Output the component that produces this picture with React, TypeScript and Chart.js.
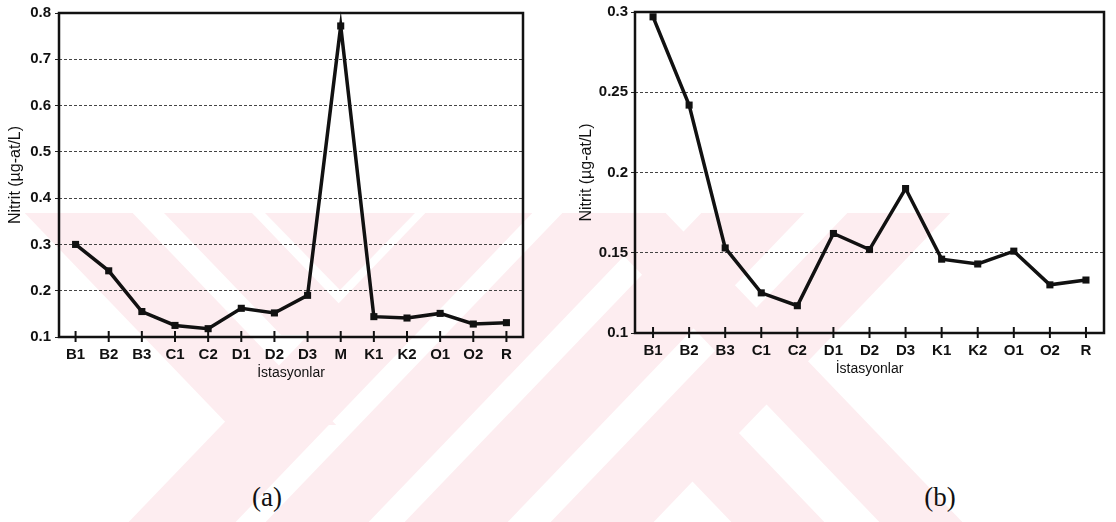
import React, { useEffect, useRef } from "react";
import { Chart, registerables } from "chart.js";
Chart.register(...registerables);

// ---- data ----
const stationsA = ["B1", "B2", "B3", "C1", "C2", "D1", "D2", "D3", "M", "K1", "K2", "O1", "O2", "R"];
const nitritA = [0.3, 0.243, 0.155, 0.125, 0.118, 0.162, 0.152, 0.19, 0.772, 0.144, 0.141, 0.151, 0.128, 0.131];
const yTicksA = [0.1, 0.2, 0.3, 0.4, 0.5, 0.6, 0.7, 0.8];

const stationsB = ["B1", "B2", "B3", "C1", "C2", "D1", "D2", "D3", "K1", "K2", "O1", "O2", "R"];
const nitritB = [0.297, 0.242, 0.153, 0.125, 0.117, 0.162, 0.152, 0.19, 0.146, 0.143, 0.151, 0.13, 0.133];
const yTicksB = [0.1, 0.15, 0.2, 0.25, 0.3];

const yTitle = "Nitrit (µg-at/L)";
const xTitle = "İstasyonlar";
const captions = ["(a)", "(b)"];

const FONT = "'Liberation Sans', Arial, sans-serif";

const boxPlugin = {
  id: "boxPlugin",
  afterDraw(chart: any) {
    const { ctx, chartArea } = chart;
    const { left, top, right, bottom } = chartArea;
    ctx.save();
    ctx.strokeStyle = "#111";
    ctx.lineWidth = 2.5;
    ctx.strokeRect(left, top, right - left, bottom - top);
    const xs = chart.scales.x;
    ctx.lineWidth = 2;
    xs.ticks.forEach((_t: any, i: number) => {
      const px = xs.getPixelForTick(i);
      ctx.beginPath();
      ctx.moveTo(px, bottom - 6);
      ctx.lineTo(px, bottom + 5);
      ctx.stroke();
    });
    ctx.restore();
  },
};

type Cfg = {
  labels: string[];
  values: number[];
  yTicks: number[];
  plotLeft: number;
  padTop: number;
  padRight: number;
  padBottom: number;
  xHeight: number;
  yTitlePad: number;
  tickPad: number;
};

function LineChart({ cfg, style }: { cfg: Cfg; style: React.CSSProperties }) {
  const ref = useRef<HTMLCanvasElement | null>(null);
  useEffect(() => {
    if (!ref.current) return;
    const yMin = cfg.yTicks[0];
    const yMax = cfg.yTicks[cfg.yTicks.length - 1];
    const chart = new Chart(ref.current, {
      type: "line",
      data: {
        labels: cfg.labels,
        datasets: [
          {
            data: cfg.values,
            borderColor: "#111",
            backgroundColor: "#111",
            borderWidth: 3.5,
            pointStyle: "rect",
            pointRadius: 5,
            pointBorderWidth: 0,
            tension: 0,
            clip: false as any,
          },
        ],
      },
      options: {
        animation: false,
        responsive: false,
        maintainAspectRatio: false,
        layout: { padding: { top: cfg.padTop, right: cfg.padRight, bottom: cfg.padBottom, left: 0 } },
        plugins: { legend: { display: false }, tooltip: { enabled: false } },
        scales: {
          x: {
            type: "category",
            offset: true,
            grid: { display: false },
            border: { display: false },
            ticks: {
              color: "#111",
              font: { family: FONT, size: 15, weight: "bold" },
              padding: 1,
              maxRotation: 0,
              autoSkip: false,
            },
            title: {
              display: true,
              text: xTitle,
              color: "#111",
              font: { family: FONT, size: 14 },
              padding: { top: 0, bottom: 0 },
            },
            afterFit(scale: any) {
              scale.height = cfg.xHeight;
            },
          },
          y: {
            min: yMin,
            max: yMax,
            afterBuildTicks(scale: any) {
              scale.ticks = cfg.yTicks.map((v) => ({ value: v }));
            },
            grid: {
              color: "#444",
              lineWidth: 1,
              drawTicks: true,
              tickLength: 4,
              tickColor: "#222",
              tickBorderDash: [],
            },
            border: { display: false, dash: [3, 2] },
            ticks: {
              color: "#111",
              font: { family: FONT, size: 15, weight: "bold" },
              padding: cfg.tickPad,
              callback: (v: any) => String(Number(Number(v).toFixed(2))),
            },
            title: {
              display: true,
              text: yTitle,
              color: "#111",
              font: { family: FONT, size: 16 },
              padding: { top: cfg.yTitlePad, bottom: 0 },
            },
            afterFit(scale: any) {
              scale.width = cfg.plotLeft;
            },
          },
        },
      },
      plugins: [boxPlugin],
    } as any);
    return () => chart.destroy();
  }, []);
  const w = style.width as number;
  const h = style.height as number;
  return <canvas ref={ref} width={w} height={h} style={{ ...style, position: "absolute" }} />;
}

const cfgA: Cfg = {
  labels: stationsA,
  values: nitritA,
  yTicks: yTicksA,
  plotLeft: 59,
  padTop: 12,
  padRight: 17,
  padBottom: 0,
  xHeight: 45,
  yTitlePad: 6.4,
  tickPad: 4,
};

const cfgB: Cfg = {
  labels: stationsB,
  values: nitritB,
  yTicks: yTicksB,
  plotLeft: 75,
  padTop: 11,
  padRight: 12,
  padBottom: 4.6,
  xHeight: 44.4,
  yTitlePad: 17.4,
  tickPad: 3,
};

// ---- decorative background watermark (pale pink diagonal bands) ----
// each band: [x of left edge at y=380, width, direction (+1 "\" , -1 "/"), yStart, yEnd]
const SLOPE = 0.96;
const bands: [number, number, number, number, number][] = [
  [185, 108, 1, 213, 425],
  [164 + SLOPE * 167, 88, 1, 213, 335],
  [265, 107, -1, 213, 522],
  [402, 103, -1, 213, 522],
  [541, 103, -1, 213, 522],
  [687, 103, -1, 213, 522],
  [743, 83, 1, 213, 522],
  [595, 93, 1, 432, 522],
];
const triangles: string[] = ["265,213 415,213 340,290"];

function bandPoints([x380, w, d, y0, y1]: [number, number, number, number, number]) {
  const xa = x380 + d * SLOPE * (y0 - 380);
  const xb = x380 + d * SLOPE * (y1 - 380);
  return `${xa},${y0} ${xa + w},${y0} ${xb + w},${y1} ${xb},${y1}`;
}

function Watermark() {
  return (
    <svg width={1116} height={522} style={{ position: "absolute", left: 0, top: 0 }}>
      <g fill="#fdedf0">
        {bands.map((b, i) => (
          <polygon key={i} points={bandPoints(b)} />
        ))}
        {triangles.map((p, i) => (
          <polygon key={"t" + i} points={p} />
        ))}
      </g>
    </svg>
  );
}

export default function App() {
  const capStyle: React.CSSProperties = {
    position: "absolute",
    top: 497,
    transform: "translate(-50%, -50%)",
    fontFamily: "'Liberation Serif', 'Times New Roman', serif",
    fontSize: 27,
    color: "#111",
    lineHeight: 1,
  };
  return (
    <div style={{ position: "fixed", left: 0, top: 0, width: 1116, height: 522, background: "#fff", overflow: "hidden" }}>
      <Watermark />
      <LineChart cfg={cfgA} style={{ left: 0, top: 0, width: 540, height: 382 }} />
      <LineChart cfg={cfgB} style={{ left: 560, top: 0, width: 556, height: 382 }} />
      <div style={{ ...capStyle, left: 267 }}>{captions[0]}</div>
      <div style={{ ...capStyle, left: 940 }}>{captions[1]}</div>
    </div>
  );
}
